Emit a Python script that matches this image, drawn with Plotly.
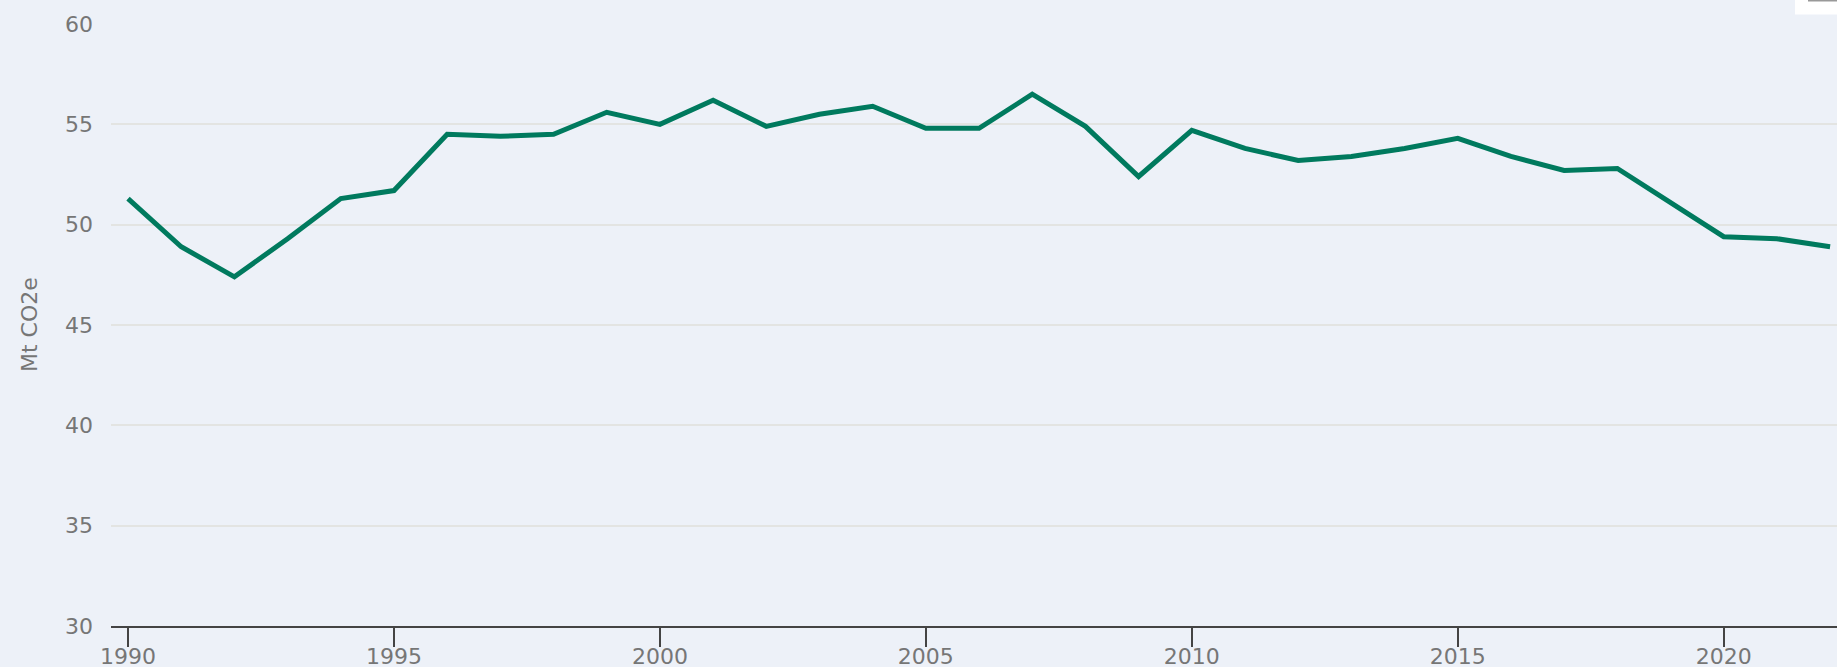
import plotly.graph_objects as go

years = list(range(1990, 2023))
emissions = [51.3, 48.9, 47.4, 49.3, 51.3, 51.7, 54.5, 54.4, 54.5, 55.6, 55.0, 56.2,
             54.9, 55.5, 55.9, 54.8, 54.8, 56.5, 54.9, 52.4, 54.7, 53.8, 53.2, 53.4,
             53.8, 54.3, 53.4, 52.7, 52.8, 51.1, 49.4, 49.3, 48.9]
x_ticks = [1990, 1995, 2000, 2005, 2010, 2015, 2020]
y_ticks = [30, 35, 40, 45, 50, 55, 60]
y_title = "Mt CO2e"

W, H = 1837, 667
ML, MR, MT, MB = 111, 0, 23.5, 41
PW, PH = W - ML - MR, H - MT - MB

FONT = "DejaVu Sans"
TXT = "#767676"
BG = "#EDF1F8"

fig = go.Figure()
fig.add_trace(go.Scatter(
    x=years, y=emissions, mode="lines",
    line=dict(color="#007A5E", width=5),
    showlegend=False, hoverinfo="x+y",
))

fig.update_layout(
    width=W, height=H,
    margin=dict(l=ML, r=MR, t=MT, b=MB, pad=0),
    paper_bgcolor=BG,
    plot_bgcolor=BG,
    font=dict(family=FONT, size=22, color=TXT),
    xaxis=dict(
        range=[1989.68, 2022.13],
        tickmode="array", tickvals=x_ticks,
        ticks="outside", ticklen=19, tickwidth=2, tickcolor="#444444",
        showline=True, linecolor="#444444", linewidth=2,
        showgrid=False, zeroline=False,
        ticklabelstandoff=-9,
        tickfont=dict(family=FONT, size=22, color=TXT),
        automargin=False,
    ),
    yaxis=dict(
        range=[30, 60],
        tickmode="array", tickvals=y_ticks,
        ticks="", showline=False,
        showgrid=True, gridcolor="#E3E4E2", gridwidth=1.5,
        zeroline=False,
        ticklabelstandoff=17,
        tickfont=dict(family=FONT, size=22, color=TXT),
        automargin=False,
    ),
    annotations=[dict(
        text=y_title, textangle=-90,
        xref="paper", yref="paper",
        x=(29 - ML) / PW, y=0.5,
        xanchor="center", yanchor="middle",
        showarrow=False,
        font=dict(family=FONT, size=22, color=TXT),
    )],
    shapes=[
        dict(type="rect", xref="paper", yref="paper",
             x0=(1795 - ML) / PW, x1=1.01,
             y0=1 + (MT - 14) / PH, y1=1 + MT / PH + 0.01,
             fillcolor="#FFFFFF", line=dict(width=0), layer="above"),
        dict(type="line", xref="paper", yref="paper",
             x0=(1808 - ML) / PW, x1=1.01,
             y0=1 + MT / PH, y1=1 + MT / PH,
             line=dict(color="#999999", width=2), layer="above"),
    ],
)

fig.write_html(
    "out.html",
    config={"displayModeBar": False},
    post_script="document.body.style.margin='0';document.body.style.overflow='hidden';",
)
